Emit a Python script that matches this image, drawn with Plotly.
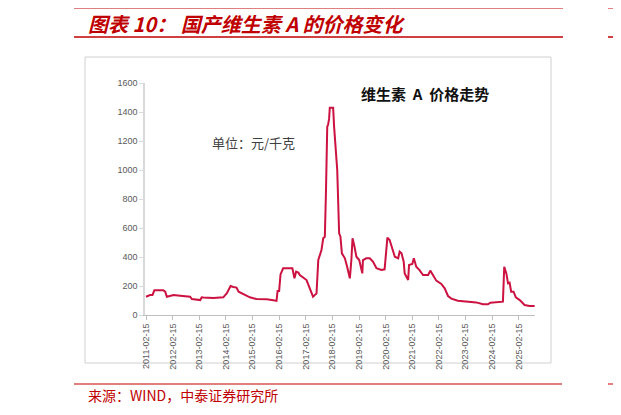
import plotly.graph_objects as go

# ---- data ----
dates = [
    "2011-02-15", "2011-04-10", "2011-05-15", "2011-06-10", "2011-10-10", "2011-11-05", "2011-11-28",
    "2012-02-01", "2012-02-28", "2012-05-28", "2012-08-28", "2012-10-12", "2012-11-05",
    "2013-02-28", "2013-03-20", "2013-04-10", "2013-08-28",
    "2014-01-10", "2014-02-28", "2014-04-20", "2014-05-28", "2014-07-10", "2014-08-08", "2014-10-12",
    "2015-01-10", "2015-04-10", "2015-08-28", "2015-11-28",
    "2016-01-10", "2016-01-25", "2016-02-15", "2016-03-05", "2016-04-10", "2016-08-15", "2016-09-12",
    "2016-10-05", "2016-11-05", "2016-11-25",
    "2017-02-25", "2017-05-25", "2017-07-12", "2017-08-05", "2017-09-18", "2017-10-12", "2017-11-03",
    "2017-11-18", "2017-12-06", "2017-12-17",
    "2018-01-01", "2018-01-10", "2018-02-25", "2018-03-10", "2018-03-28", "2018-04-10", "2018-04-22",
    "2018-05-18", "2018-06-05", "2018-06-25", "2018-08-05", "2018-09-05", "2018-10-12", "2018-11-02",
    "2018-11-18", "2018-12-10",
    "2019-01-10", "2019-02-18", "2019-04-01", "2019-04-10", "2019-05-25", "2019-07-12", "2019-08-25",
    "2019-10-12", "2019-12-18",
    "2020-02-01", "2020-02-25", "2020-03-10", "2020-04-10", "2020-05-05", "2020-06-20", "2020-08-05",
    "2020-08-25", "2020-09-20", "2020-10-20", "2020-11-02", "2020-12-20",
    "2021-01-01", "2021-02-15", "2021-03-08", "2021-04-10", "2021-05-25", "2021-07-12", "2021-09-20",
    "2021-10-20", "2021-11-25",
    "2022-01-10", "2022-03-20", "2022-05-05", "2022-06-20", "2022-08-05", "2022-11-02",
    "2023-02-28", "2023-07-12", "2023-10-12", "2023-12-20",
    "2024-01-22", "2024-04-10", "2024-07-12", "2024-07-30", "2024-08-28", "2024-09-20", "2024-10-12",
    "2024-11-02", "2024-12-05",
    "2025-01-05", "2025-02-28", "2025-05-05", "2025-07-12", "2025-09-20",
]
prices = [
    126, 138, 138, 170, 170, 161, 126,
    131, 138, 133, 126, 126, 110,
    103, 122, 120, 117,
    122, 150, 200, 193, 189, 161, 145,
    122, 110, 108, 101,
    97, 166, 166, 280, 322, 322, 253,
    299, 292, 276,
    241, 126, 149, 379, 448, 529, 540,
    839, 1299, 1310,
    1356, 1430, 1430, 1299, 1184, 1092, 1000,
    563, 540, 425, 391, 333, 253, 379,
    529, 483,
    402, 379, 287, 379, 391, 391, 368,
    322, 310,
    315, 448, 533, 517, 471, 402, 391,
    437, 425, 368, 287, 241,
    345, 352, 391, 333, 310, 276, 276,
    306, 276,
    237, 214, 184, 131, 113, 99,
    92, 87, 74, 74,
    85, 87, 92, 333, 287, 218, 223,
    161, 161,
    122, 103, 69, 62, 62,
]
tick_vals = [f"{y}-02-15" for y in range(2011, 2026)]
tick_text = [f"{y}-02-15" for y in range(2011, 2026)]

# ---- layout geometry (screen pixels of the 621x415 window) ----
OFF = 8                      # default page margin around the plot div
W, H = 621 - OFF, 415 - OFF  # figure fills the window to its right/bottom edge
L, R, T, B = 145 - OFF, 621 - 535, 83 - OFF, 415 - 315
PW, PH = W - L - R, H - T - B


def px(x):
    return (x - OFF - L) / PW


def py(y):
    return (H - B - (y - OFF)) / PH


RED = "#C00000"
LINE = "#CC1240"
CJK = "Noto Sans CJK SC"

fig = go.Figure()
fig.add_trace(go.Scatter(
    x=dates, y=prices, mode="lines",
    line=dict(color=LINE, width=2, shape="linear"),
    hoverinfo="skip", showlegend=False,
))

shapes = [
    # chart box
    dict(type="rect", xref="paper", yref="paper", x0=px(85), x1=px(551), y0=py(363), y1=py(57),
         line=dict(color="#D0D0D0", width=1), layer="below"),
    # red rules
    dict(type="line", xref="paper", yref="paper", x0=px(74), x1=px(563), y0=py(7), y1=py(7),
         line=dict(color="#C00000", width=3)),
    dict(type="line", xref="paper", yref="paper", x0=px(74), x1=px(563), y0=py(37), y1=py(37),
         line=dict(color="#C00000", width=1.5)),
    dict(type="line", xref="paper", yref="paper", x0=px(74), x1=px(562), y0=py(384), y1=py(384),
         line=dict(color="#D9534F", width=1.5)),
    dict(type="line", xref="paper", yref="paper", x0=px(608), x1=px(625), y0=py(7), y1=py(7),
         line=dict(color="#C00000", width=3)),
    dict(type="line", xref="paper", yref="paper", x0=px(608), x1=px(625), y0=py(37), y1=py(37),
         line=dict(color="#C00000", width=1.5)),
    dict(type="line", xref="paper", yref="paper", x0=px(608), x1=px(625), y0=py(384), y1=py(384),
         line=dict(color="#D9534F", width=1.5)),
]

annotations = [
    dict(text="图表 10： 国产维生素 A 的价格变化", x=px(86), y=py(23), xref="paper", yref="paper",
         xanchor="left", yanchor="middle", showarrow=False,
         font=dict(family=CJK, size=20, color=RED, weight="bold", style="italic")),
    dict(text="来源：WIND，中泰证券研究所", x=px(86), y=py(395), xref="paper", yref="paper",
         xanchor="left", yanchor="middle", showarrow=False,
         font=dict(family=CJK, size=14, color=RED)),
    dict(text="维生素  A  价格走势", x=px(425), y=py(93), xref="paper", yref="paper",
         xanchor="center", yanchor="middle", showarrow=False,
         font=dict(family=CJK, size=15, color="#111111", weight="bold")),
    dict(text="单位：元/千克", x=px(253), y=py(142), xref="paper", yref="paper",
         xanchor="center", yanchor="middle", showarrow=False,
         font=dict(family=CJK, size=13, color="#404040")),
]

fig.update_layout(
    width=W, height=H,
    margin=dict(l=L, r=R, t=T, b=B, pad=0),
    paper_bgcolor="white", plot_bgcolor="white",
    shapes=shapes, annotations=annotations,
    showlegend=False,
    xaxis=dict(
        type="date", range=["2011-02-01", "2025-09-25"],
        tickvals=tick_vals, ticktext=tick_text, tickangle=-90,
        tickfont=dict(family="Liberation Sans, Arial", size=9, color="#595959"),
        ticks="outside", ticklen=4, tickcolor="#BFBFBF",
        showline=True, linecolor="#BFBFBF", linewidth=1,
        showgrid=False, zeroline=False,
    ),
    yaxis=dict(
        range=[0, 1600], tickvals=list(range(0, 1601, 200)),
        tickfont=dict(family="Liberation Sans, Arial", size=9, color="#595959"),
        ticks="outside", ticklen=4, tickcolor="#D9D9D9",
        showline=True, linecolor="#D9D9D9", linewidth=1.5,
        showgrid=False, zeroline=False,
    ),
)

fig.write_html("out.html")
